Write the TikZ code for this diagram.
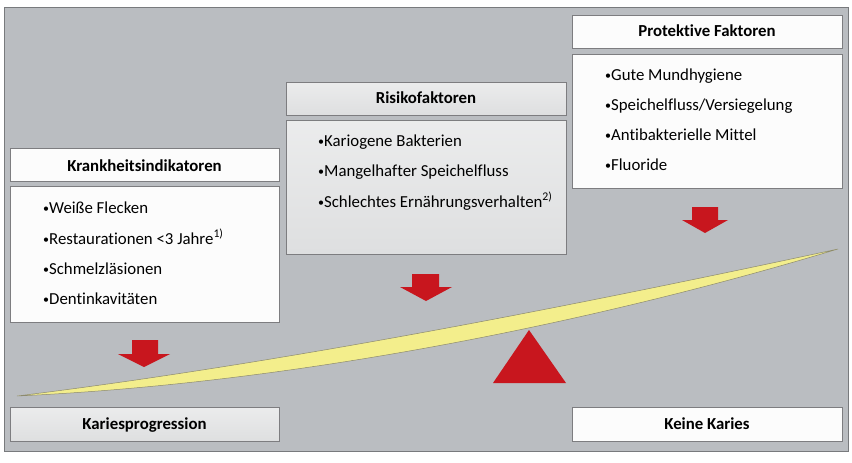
\documentclass[tikz,border=0pt]{standalone}
\usepackage{fontspec}
\setmainfont{Carlito}[RawFeature=-liga]
\newcommand{\smbul}{{\fontsize{12}{12}\selectfont\raisebox{0.5pt}{•}}}
\definecolor{panel}{RGB}{186,189,193}
\definecolor{panelline}{RGB}{120,122,125}
\definecolor{boxline}{RGB}{125,125,128}
\definecolor{boxwhite}{RGB}{252,252,252}
\definecolor{boxgray}{RGB}{222,223,224}
\definecolor{arrowred}{RGB}{200,22,30}
\definecolor{beamyellow}{RGB}{243,238,140}
\definecolor{beamline}{RGB}{140,138,110}
\begin{document}
\begin{tikzpicture}[x=1pt,y=-1pt,
  box/.style={draw=boxline,line width=1pt},
  whitebox/.style={box,fill=boxwhite},
  graybox/.style={box,top color=boxgray!60,bottom color=boxgray},
  headtext/.style={font=\fontsize{16.8}{19}\selectfont\bfseries,anchor=base,inner sep=0pt},
  itemtext/.style={font=\fontsize{16.8}{19}\selectfont,anchor=base west,inner sep=0pt},
  blockarrow/.style={fill=arrowred,draw=none},
]
\useasboundingbox (0,0) rectangle (852,463);
\fill[white] (0,0) rectangle (852,463);
\draw[fill=panel,draw=panelline,line width=0.8pt] (4,7) rectangle (848,451);

% header and body boxes
\draw[whitebox] (10,148) rectangle (279,181);
\draw[whitebox] (10,186) rectangle (279,322);
\draw[graybox] (286,82) rectangle (566,115);
\draw[graybox] (286,120) rectangle (566,254);
\draw[whitebox] (572,15) rectangle (842,48);
\draw[whitebox] (572,54) rectangle (842,188);
\draw[graybox] (10,407) rectangle (279,441);
\draw[whitebox] (572,407) rectangle (842,441);

% header texts
\node[headtext] (hk) at (144.5,171) {Krankheitsindikatoren};
\node[headtext] (hr) at (426,103) {Risikofaktoren};
\node[headtext] (hp) at (707,36) {Protektive Faktoren};
\node[headtext] (kp) at (144.5,429) {Kariesprogression};
\node[headtext] (kk) at (707,429) {Keine Karies};

% item texts
\node[itemtext] (k1) at (43,213) {\smbul Weiße Flecken};
\node[itemtext] (k2) at (43,244) {\smbul Restaurationen <3 Jahre\textsuperscript{1)}};
\node[itemtext] (k3) at (43,274) {\smbul Schmelzläsionen};
\node[itemtext] (k4) at (43,304) {\smbul Dentinkavitäten};

\node[itemtext] (r1) at (318,146) {\smbul Kariogene Bakterien};
\node[itemtext] (r2) at (318,176) {\smbul Mangelhafter Speichelfluss};
\node[itemtext] (r3) at (318,207) {\smbul Schlechtes Ernährungsverhalten\textsuperscript{2)}};

\node[itemtext] (p1) at (605,80) {\smbul Gute Mundhygiene};
\node[itemtext] (p2) at (605,110) {\smbul Speichelfluss/Versiegelung};
\node[itemtext] (p3) at (605,140) {\smbul Antibakterielle Mittel};
\node[itemtext] (p4) at (605,170) {\smbul Fluoride};

% beam
\draw[fill=beamyellow,draw=beamline,line width=0.5pt]
  (17,396) .. controls (300,361) and (600,300) .. (838,249)
  .. controls (600,321) and (300,383) .. (17,396) -- cycle;

% block arrows
\fill[blockarrow] (132,340) -- (158,340) -- (158,354) -- (170,354) -- (144,367) -- (118,354) -- (132,354) -- cycle;
\fill[blockarrow] (412,274) -- (439,274) -- (439,287) -- (452,287) -- (426,301) -- (400,287) -- (412,287) -- cycle;
\fill[blockarrow] (692,207) -- (718,207) -- (718,220) -- (728,220) -- (705,233) -- (682,220) -- (692,220) -- cycle;

% fulcrum
\fill[arrowred] (529,330) -- (566,383) -- (493,383) -- cycle;
\end{tikzpicture}
\end{document}
